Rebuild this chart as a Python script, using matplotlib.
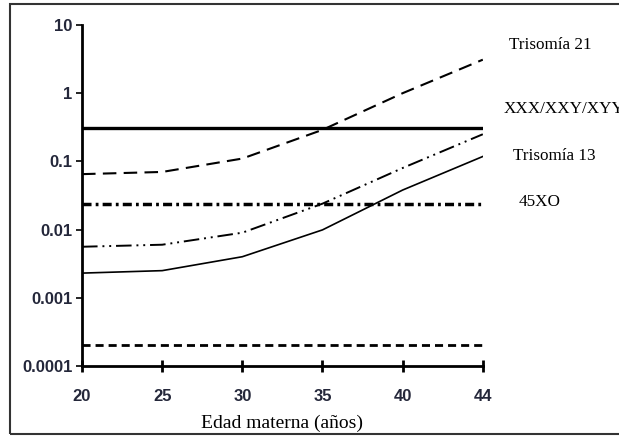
import matplotlib.pyplot as plt
from matplotlib.patches import Rectangle

# Edad materna (etiquetas del eje x, espaciado uniforme)
edades = ["20", "25", "30", "35", "40", "44"]

# Riesgo por edad materna (escala logarítmica)
trisomia_21 = [0.065, 0.07, 0.11, 0.29, 1.0, 3.1]
trisomia_18 = [0.0056, 0.006, 0.009, 0.024, 0.08, 0.25]
trisomia_13 = [0.0023, 0.0025, 0.004, 0.0099, 0.038, 0.118]
xxx_xxy_xyy = [0.31] * 6
xo_45 = [0.024] * 6
triploidia = [0.0002] * 6

etiquetas = ["Trisomía 21", "XXX/XXY/XYY", "Trisomía 13", "45XO"]

fig = plt.figure(figsize=(6.19, 4.36), dpi=100)
ax = fig.add_axes([0.1325, 0.1606, 0.6475, 0.7821])

x = list(range(len(edades)))
ax.plot(x, trisomia_21, color="black", lw=1.5, linestyle=(0, (6.5, 3.5)))
ax.plot(x, xxx_xxy_xyy, color="black", lw=2.4, linestyle="-")
ax.plot(x, trisomia_18, color="black", lw=1.4,
        linestyle=(0, (8, 2.5, 1, 2.5, 1, 2.5)))
ax.plot(x, trisomia_13, color="black", lw=1.2, linestyle="-")
ax.plot(x, xo_45, color="black", lw=2.5, linestyle=(0, (2.6, 1.2, 0.8, 1.2)))
ax.plot(x, triploidia, color="black", lw=2.0, linestyle=(0, (2.9, 1.8)))

ax.set_yscale("log")
ax.set_ylim(0.0001, 10)
ax.set_xlim(0, 5)
ax.set_yticks([0.0001, 0.001, 0.01, 0.1, 1, 10])
ax.set_yticklabels(["0.0001", "0.001", "0.01", "0.1", "1", "10"])
ax.minorticks_off()
ax.set_xticks(x)
ax.set_xticklabels(edades)

for s in ["top", "right"]:
    ax.spines[s].set_visible(False)
for s in ["left", "bottom"]:
    ax.spines[s].set_linewidth(2)

col_tick = "#24273a"
ax.tick_params(axis="y", direction="out", length=4, width=1.2, pad=3,
               labelsize=12, labelcolor=col_tick)
ax.tick_params(axis="x", direction="inout", length=9, width=2, pad=12,
               labelsize=12, labelcolor=col_tick)
for t in ax.get_xticklabels() + ax.get_yticklabels():
    t.set_family(["Liberation Sans", "DejaVu Sans"])
    t.set_fontweight("bold")

ax.set_xlabel("Edad materna (años)", family="Liberation Serif", fontsize=14,
              labelpad=8)

# Etiquetas de la derecha
pos = [(509, 45), (504, 109), (513, 156), (519, 202)]
for (px, py), txt in zip(pos, etiquetas):
    fig.text(px / 619, 1 - py / 436, txt, family="Liberation Serif",
             fontsize=12.3, va="center", ha="left")

# Marco exterior
fig.patches.append(Rectangle((10 / 619, 2 / 436), 1.1, 430 / 436,
                             transform=fig.transFigure, fill=False,
                             edgecolor="#333333", lw=1.5))

fig.savefig("out.png", dpi=100)
